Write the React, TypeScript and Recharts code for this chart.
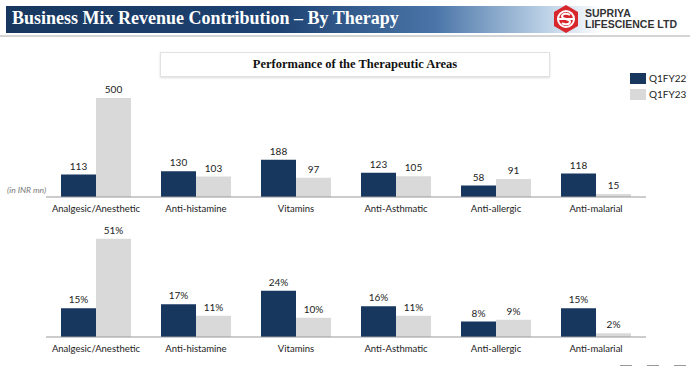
import React from 'react';
import { BarChart, Bar, XAxis, YAxis, LabelList } from 'recharts';

const categories = ['Analgesic/Anesthetic', 'Anti-histamine', 'Vitamins', 'Anti-Asthmatic', 'Anti-allergic', 'Anti-malarial'];
const revenueQ1FY22 = [113, 130, 188, 123, 58, 118];
const revenueQ1FY23 = [500, 103, 97, 105, 91, 15];
const shareQ1FY22 = [15, 17, 24, 16, 8, 15];
const shareQ1FY23 = [51, 11, 10, 11, 9, 2];

const DARK = '#17375E';
const LIGHT = '#D9D9D9';
const LABEL_FONT = 'Lato, "Open Sans", sans-serif';
const SERIF = '"Liberation Serif", "DejaVu Serif", serif';

const revenueData = categories.map((name, i) => ({ name, q22: revenueQ1FY22[i], q23: revenueQ1FY23[i] }));
const shareData = categories.map((name, i) => ({ name, q22: shareQ1FY22[i], q23: shareQ1FY23[i] }));

const tickStyle = { fill: '#222', fontSize: 9.5, fontFamily: LABEL_FONT };
const labelStyle = { fill: '#222', fontSize: 10, fontFamily: LABEL_FONT };

type Row = { name: string; q22: number; q23: number };

const MixChart: React.FC<{ data: Row[]; max: number; suffix: string }> = ({ data, max, suffix }) => (
  <BarChart
    width={690}
    height={145}
    data={data}
    margin={{ top: 15, right: 44, bottom: 0, left: 46 }}
    barGap={0}
    barCategoryGap="15%"
  >
    <XAxis
      dataKey="name"
      height={23}
      tickLine={false}
      axisLine={{ stroke: '#999', strokeWidth: 1 }}
      tick={tickStyle}
      interval={0}
    />
    <YAxis hide domain={[0, max]} />
    <Bar dataKey="q22" fill={DARK} isAnimationActive={false}>
      <LabelList dataKey="q22" position="top" offset={5} style={labelStyle} formatter={(v: any) => `${v}${suffix}`} />
    </Bar>
    <Bar dataKey="q23" fill={LIGHT} isAnimationActive={false}>
      <LabelList dataKey="q23" position="top" offset={5} style={labelStyle} formatter={(v: any) => `${v}${suffix}`} />
    </Bar>
  </BarChart>
);

const Logo = () => (
  <svg width={26} height={28} viewBox="0 0 26 28" style={{ position: 'absolute', left: 553, top: 5 }}>
    <polygon points="13,0 25,7 25,21 13,28 1,21 1,7" fill="#D7262C" />
    <circle cx={13} cy={14} r={8} fill="none" stroke="#fff" strokeWidth={2} />
    <path d="M17,10 C15,8 9,8 9,11.5 C9,14 17,14 17,16.5 C17,20 11,20 9,18" fill="none" stroke="#fff" strokeWidth={2} />
    <rect x={4} y={13} width={18} height={2} fill="#fff" />
  </svg>
);

export default function App() {
  return (
    <div style={{ position: 'absolute', left: 0, top: 0, width: 690, height: 368, background: '#fff', overflow: 'hidden' }}>
      {/* header banner */}
      <div
        style={{
          position: 'absolute', left: 6, top: 6, width: 596, height: 27,
          background: 'linear-gradient(90deg, #17375E 0%, #1d4272 45%, #4a75a8 72%, #b9cfe5 90%, #ffffff 100%)',
        }}
      />
      <div style={{ position: 'absolute', left: 12, top: 8, color: '#fff', fontFamily: SERIF, fontWeight: 700, fontSize: 18, whiteSpace: 'nowrap' }}>
        Business Mix Revenue Contribution – By Therapy
      </div>
      <div style={{ position: 'absolute', left: 0, top: 35, width: 690, height: 2, background: '#d4d4d4' }} />
      <Logo />
      <div style={{ position: 'absolute', left: 585, top: 8, fontFamily: '"Liberation Sans", sans-serif', fontWeight: 700, fontSize: 10.5, lineHeight: '11px', color: '#333', whiteSpace: 'nowrap' }}>
        SUPRIYA<br />LIFESCIENCE LTD
      </div>

      {/* subtitle box */}
      <div
        style={{
          position: 'absolute', left: 160, top: 52, width: 388, height: 23,
          border: '1px solid #e2e2e2', boxShadow: '0 1px 2px rgba(0,0,0,0.15)',
          display: 'flex', alignItems: 'center', justifyContent: 'center',
          fontFamily: SERIF, fontWeight: 700, fontSize: 12.5, color: '#111',
        }}
      >
        Performance of the Therapeutic Areas
      </div>

      {/* legend */}
      <div style={{ position: 'absolute', left: 630, top: 73, width: 16, height: 11, background: DARK }} />
      <div style={{ position: 'absolute', left: 649, top: 72, fontFamily: LABEL_FONT, fontSize: 10, color: '#222' }}>Q1FY22</div>
      <div style={{ position: 'absolute', left: 630, top: 89, width: 16, height: 11, background: LIGHT }} />
      <div style={{ position: 'absolute', left: 649, top: 88, fontFamily: LABEL_FONT, fontSize: 10, color: '#222' }}>Q1FY23</div>

      <div style={{ position: 'absolute', left: 7, top: 185, fontFamily: LABEL_FONT, fontStyle: 'italic', fontSize: 8.5, color: '#777' }}>
        (in INR mn)
      </div>

      <div style={{ position: 'absolute', left: 0, top: 75 }}>
        <MixChart data={revenueData} max={540} suffix="" />
      </div>
      <div style={{ position: 'absolute', left: 0, top: 215 }}>
        <MixChart data={shareData} max={55.6} suffix="%" />
      </div>

      {/* footer marks */}
      <div style={{ position: 'absolute', left: 620, top: 365, width: 12, height: 1, background: '#999' }} />
      <div style={{ position: 'absolute', left: 647, top: 365, width: 12, height: 1, background: '#999' }} />
      <div style={{ position: 'absolute', left: 674, top: 365, width: 12, height: 1, background: '#999' }} />
    </div>
  );
}
